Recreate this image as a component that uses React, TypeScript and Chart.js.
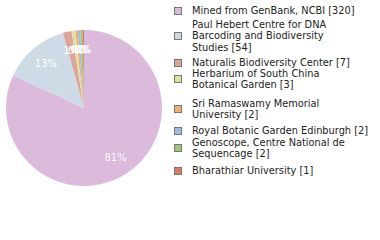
import React, { useEffect, useRef } from "react";
import { Chart, registerables } from "chart.js";

Chart.register(...registerables);

const labels = [
  "Mined from GenBank, NCBI",
  "Paul Hebert Centre for DNA Barcoding and Biodiversity Studies",
  "Naturalis Biodiversity Center",
  "Herbarium of South China Botanical Garden",
  "Sri Ramaswamy Memorial University",
  "Royal Botanic Garden Edinburgh",
  "Genoscope, Centre National de Sequencage",
  "Bharathiar University",
];
const counts = [320, 54, 7, 3, 2, 2, 2, 1];
const colors = ["#dcbadc", "#cedbe6", "#dca59c", "#dce39c", "#f3ae78", "#9dbbdd", "#a3c67c", "#df7a61"];

// legend layout (text block tops, px)
const legendTops = [5, 19, 57, 68, 98, 125, 137, 165];
const WRAP = 31;

function wrapLabel(name: string, count: number): string[] {
  const words = name.split(" ");
  const lines: string[] = [];
  let cur = "";
  for (const w of words) {
    const next = cur ? cur + " " + w : w;
    if (next.length > WRAP && cur) {
      lines.push(cur);
      cur = w;
    } else cur = next;
  }
  lines.push(cur + " [" + count + "]");
  return lines;
}

const labelPlugin = {
  id: "pctLabels",
  afterDatasetsDraw(chart: any) {
    const ctx = chart.ctx;
    const meta = chart.getDatasetMeta(0);
    const data = chart.data.datasets[0].data as number[];
    const total = data.reduce((a, b) => a + b, 0);
    ctx.save();
    ctx.fillStyle = "#ffffff";
    ctx.font = "10px 'DejaVu Sans'";
    ctx.textAlign = "center";
    ctx.textBaseline = "middle";
    meta.data.forEach((arc: any, i: number) => {
      const { x, y, startAngle, endAngle, outerRadius } = arc.getProps(
        ["x", "y", "startAngle", "endAngle", "outerRadius"],
        true
      );
      const mid = (startAngle + endAngle) / 2;
      const d = outerRadius * 0.75;
      const pct = Math.floor((data[i] / total) * 100);
      ctx.fillText(pct + "%", x + Math.cos(mid) * d, y + Math.sin(mid) * d + 1);
    });
    ctx.restore();
  },
};

export default function App() {
  const ref = useRef<HTMLCanvasElement>(null);
  useEffect(() => {
    if (!ref.current) return;
    const chart = new Chart(ref.current, {
      type: "pie",
      data: {
        labels,
        datasets: [
          {
            data: counts,
            backgroundColor: colors,
            borderWidth: 0,
          },
        ],
      },
      options: {
        animation: false,
        responsive: false,
        maintainAspectRatio: false,
        layout: { padding: 6 },
        plugins: { legend: { display: false }, tooltip: { enabled: false } },
      },
      plugins: [labelPlugin],
    });
    return () => chart.destroy();
  }, []);

  return (
    <div
      style={{
        position: "fixed",
        left: 0,
        top: 0,
        width: 380,
        height: 240,
        background: "#fff",
        overflow: "hidden",
      }}
    >
      <canvas
        ref={ref}
        width={168}
        height={216}
        style={{ position: "absolute", left: 0, top: 0, width: 168, height: 216 }}
      />
      {labels.map((l, i) => (
        <div
          key={i}
          style={{
            position: "absolute",
            left: 174,
            top: legendTops[i],
            width: 205,
            display: "flex",
            alignItems: "center",
          }}
        >
          <div
            style={{
              width: 6,
              height: 6,
              border: "1px solid #777",
              background: colors[i],
              flex: "0 0 auto",
            }}
          />
          <div
            style={{
              marginLeft: 10,
              fontFamily: "'DejaVu Sans'",
              fontSize: 9.8,
              lineHeight: "11.4px",
              color: "#222",
              whiteSpace: "nowrap",
            }}
          >
            {wrapLabel(l, counts[i]).map((line, j) => (
              <div key={j}>{line}</div>
            ))}
          </div>
        </div>
      ))}
    </div>
  );
}
